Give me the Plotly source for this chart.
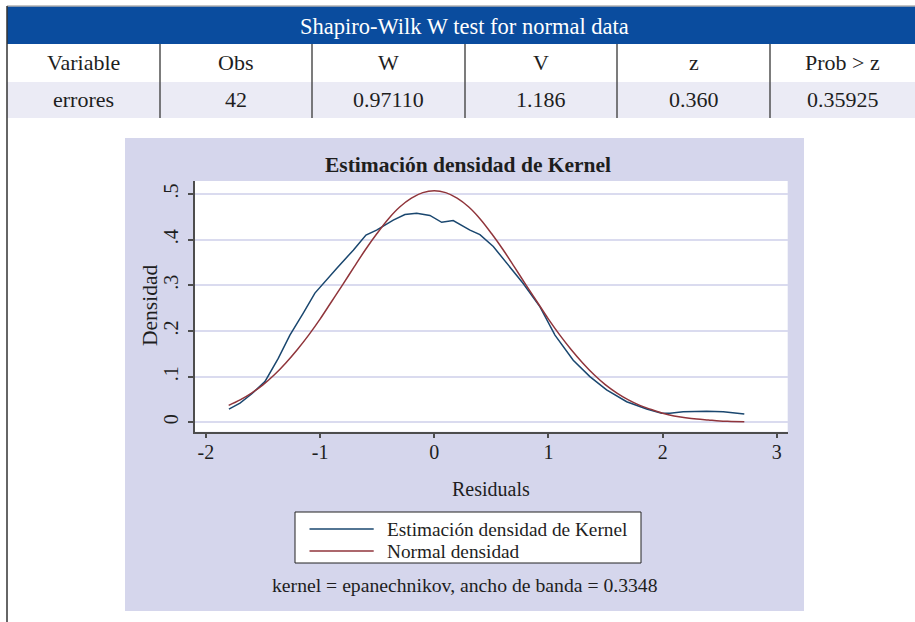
import plotly.graph_objects as go

W, H = 915, 622

# ---------------- data ----------------
table_title = "Shapiro-Wilk W test for normal data"
table_columns = ["Variable", "Obs", "W", "V", "z", "Prob > z"]
table_values = ["errores", "42", "0.97110", "1.186", "0.360", "0.35925"]

kernel_x = [-1.798, -1.701, -1.60, -1.483, -1.366, -1.264, -1.147, -1.045, -0.855,
            -0.709, -0.598, -0.505, -0.359, -0.257, -0.154, -0.038, 0.065, 0.166,
            0.313, 0.400, 0.517, 0.634, 0.779, 0.926, 1.057, 1.217, 1.363, 1.509,
            1.685, 1.860, 1.991, 2.064, 2.180, 2.385, 2.531, 2.715]
kernel_y = [0.029, 0.042, 0.062, 0.089, 0.140, 0.191, 0.239, 0.283, 0.337,
            0.377, 0.410, 0.421, 0.443, 0.455, 0.458, 0.453, 0.438, 0.442,
            0.421, 0.411, 0.385, 0.348, 0.304, 0.253, 0.191, 0.136, 0.100, 0.071,
            0.045, 0.029, 0.020, 0.020, 0.023, 0.024, 0.023, 0.018]

normal_x = [-1.8, -1.7, -1.6, -1.5, -1.4, -1.3, -1.2, -1.1, -1.0, -0.9, -0.8, -0.7,
            -0.6, -0.5, -0.4, -0.3, -0.2, -0.1, 0.0, 0.1, 0.2, 0.3, 0.4, 0.5, 0.6,
            0.7, 0.8, 0.9, 1.0, 1.1, 1.2, 1.3, 1.4, 1.5, 1.6, 1.7, 1.8, 1.9, 2.0,
            2.1, 2.2, 2.3, 2.4, 2.5, 2.6, 2.715]
normal_y = [0.037, 0.049, 0.064, 0.082, 0.104, 0.130, 0.159, 0.191, 0.226, 0.264, 0.302, 0.341,
            0.379, 0.414, 0.446, 0.472, 0.491, 0.503, 0.507, 0.503, 0.491, 0.472, 0.446, 0.414, 0.379,
            0.341, 0.302, 0.264, 0.226, 0.191, 0.159, 0.130, 0.104, 0.082, 0.064, 0.049, 0.037, 0.028, 0.020,
            0.014, 0.010, 0.007, 0.005, 0.003, 0.002, 0.001]

y_tickvals = [0, 0.1, 0.2, 0.3, 0.4, 0.5]
y_ticktext = ["0", ".1", ".2", ".3", ".4", ".5"]
x_tickvals = [-2, -1, 0, 1, 2, 3]
x_ticktext = ["-2", "-1", "0", "1", "2", "3"]

chart_title = "Estimación densidad de Kernel"
x_title = "Residuals"
y_title = "Densidad"
legend_names = ["Estimación densidad de Kernel", "Normal densidad"]
note_text = "kernel = epanechnikov, ancho de banda = 0.3348"

# ---------------- styling ----------------
FONT = "Liberation Serif, Times New Roman, serif"
TXT = "#1e1e1e"
BLUE_LINE = "#1a476f"
RED_LINE = "#90353b"
HEADER_BLUE = "#0a4c9e"
ROW2 = "#ebebf5"
PANEL = "#d5d6ec"
GRID = "#dadbef"
AXIS = "#4d4d4d"


def fx(x):
    return x / W


def fy(y):
    return 1 - y / H


def rect(x0, y0, x1, y1, color):
    return dict(type="rect", xref="paper", yref="paper", x0=fx(x0), x1=fx(x1),
                y0=fy(y1), y1=fy(y0), fillcolor=color, line=dict(width=0), layer="below")


def line(x0, y0, x1, y1, color, width=1.5, layer="below"):
    return dict(type="line", xref="paper", yref="paper", x0=fx(x0), x1=fx(x1),
                y0=fy(y0), y1=fy(y1), line=dict(color=color, width=width), layer=layer)


def text(x, y, s, size, color=TXT, xanchor="center", angle=0):
    return dict(x=fx(x), y=fy(y), xref="paper", yref="paper", text=s, showarrow=False,
                xanchor=xanchor, yanchor="middle", textangle=angle,
                font=dict(family=FONT, size=size, color=color))


shapes = []
annotations = []

# ---- table ----
col_edges = [7, 160, 312, 465, 617, 770, 915]
shapes.append(rect(7, 6.5, 915, 44, HEADER_BLUE))
shapes.append(rect(7, 82, 915, 118, ROW2))
shapes.append(line(7, 6, 915, 6, "#8a8a8a", 1))
for xe in col_edges[1:-1]:
    shapes.append(line(xe, 44, xe, 118, "#505050", 1.5))
shapes.append(line(7, 6, 7, 622, "#333333", 1.5))

annotations.append(text(464, 26, table_title, 22.5, color="white"))
for i, (c, v) in enumerate(zip(table_columns, table_values)):
    cx = (col_edges[i] + col_edges[i + 1]) / 2
    annotations.append(text(cx, 63, c, 22))
    annotations.append(text(cx, 100, v, 22))

# ---- chart panel ----
shapes.append(rect(125, 138, 804, 611, PANEL))
shapes.append(rect(195, 181, 787.7, 431.7, "white"))

annotations.append(text(468, 165, "<b>" + chart_title + "</b>", 21.5))
annotations.append(text(150, 306, y_title, 21.5, angle=-90))
annotations.append(text(491, 489, x_title, 20))

# legend box (manual)
shapes.append(dict(type="rect", xref="paper", yref="paper", x0=fx(295), x1=fx(641),
                   y0=fy(563), y1=fy(512), fillcolor="white",
                   line=dict(color="#222222", width=1), layer="below"))
shapes.append(line(309.5, 529, 373.7, 529, BLUE_LINE, 1.5))
shapes.append(line(309.5, 551, 373.7, 551, RED_LINE, 1.5))
annotations.append(text(384.5, 529, legend_names[0], 19.3, xanchor="left"))
annotations.append(text(384.5, 551, legend_names[1], 19.3, xanchor="left"))

annotations.append(text(465, 585, note_text, 19.7))

fig = go.Figure()
fig.add_trace(go.Scatter(x=kernel_x, y=kernel_y, mode="lines", name=legend_names[0],
                         line=dict(color=BLUE_LINE, width=1.5)))
fig.add_trace(go.Scatter(x=normal_x, y=normal_y, mode="lines", name=legend_names[1],
                         line=dict(color=RED_LINE, width=1.5, shape="spline")))

fig.update_layout(
    width=W, height=H, autosize=False,
    margin=dict(l=0, r=0, t=0, b=0),
    paper_bgcolor="white", plot_bgcolor="rgba(0,0,0,0)",
    showlegend=False,
    font=dict(family=FONT, color=TXT),
    shapes=shapes, annotations=annotations,
    xaxis=dict(domain=[fx(195), fx(787.7)], range=[-2.095, 3.095],
               tickvals=x_tickvals, ticktext=x_ticktext,
               showgrid=False, zeroline=False,
               showline=True, linecolor=AXIS, linewidth=1.5,
               ticks="outside", ticklen=5, tickwidth=1.5, tickcolor=AXIS,
               ticklabelstandoff=-3,
               tickfont=dict(family=FONT, size=20, color=TXT)),
    yaxis=dict(domain=[fy(431.7), fy(181)], range=[-0.0206, 0.5285],
               tickvals=y_tickvals, ticktext=y_ticktext, tickangle=-90,
               showgrid=True, gridcolor=GRID, gridwidth=1.5, zeroline=False,
               showline=True, linecolor=AXIS, linewidth=1.5,
               ticks="outside", ticklen=5, tickwidth=1.5, tickcolor=AXIS,
               ticklabelstandoff=2,
               tickfont=dict(family=FONT, size=20, color=TXT)),
)

fig.write_html("out.html")
